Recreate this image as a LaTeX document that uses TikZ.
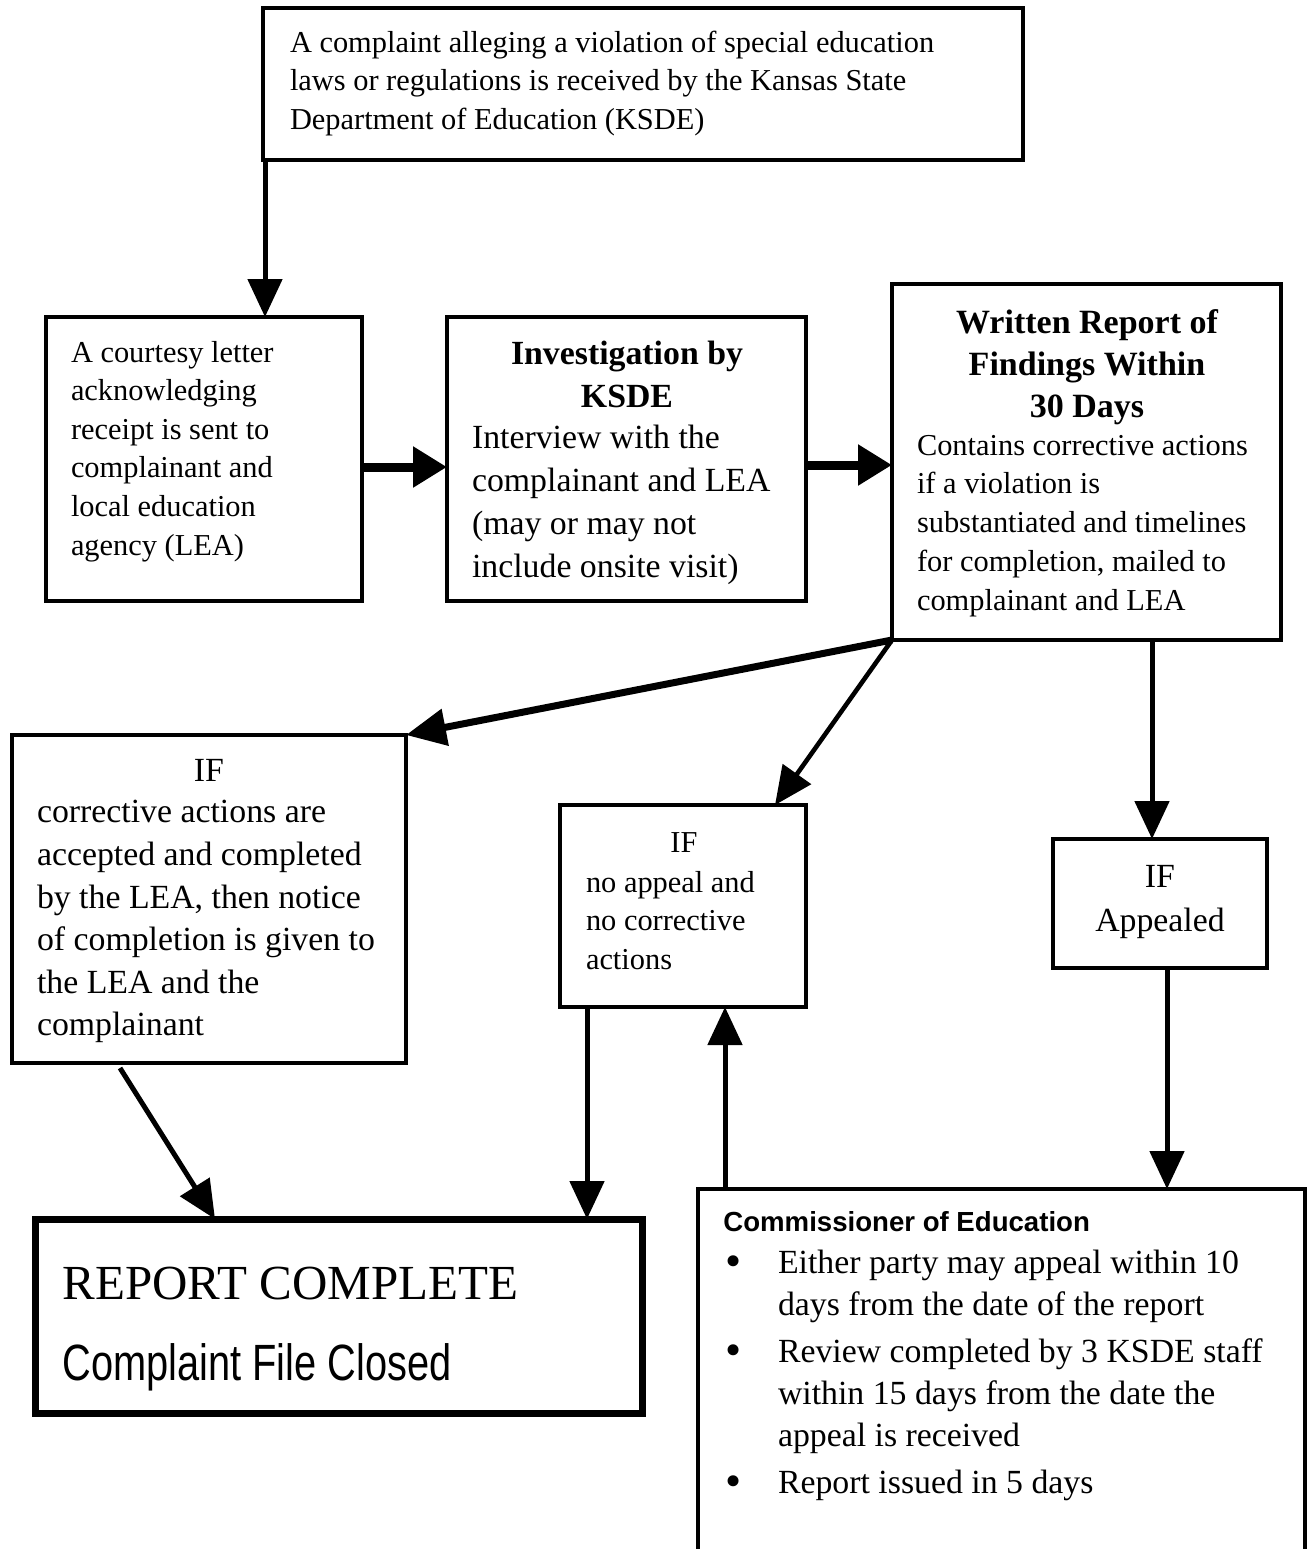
\documentclass[tikz,border=0pt]{standalone}
\usepackage{fontspec}
\setmainfont{Liberation Serif}
\setsansfont{Liberation Sans}
\newfontfamily\narrowsans{Liberation Sans}[FakeStretch=0.78]
\usetikzlibrary{arrows.meta}
\newcommand{\mybul}{\llap{\raisebox{-1.6pt}{\fontsize{23pt}{23pt}\selectfont\textbullet}\hspace{18pt}}}
\begin{document}
\begin{tikzpicture}[x=0.5pt,y=-0.5pt,
  box/.style={draw, line width=1.75pt, rectangle, inner sep=0pt, outer sep=0pt},
  bigbox/.style={box, line width=3.5pt},
  txt/.style={inner sep=0pt, outer sep=0pt, align=left, anchor=north west},
  ctxt/.style={inner sep=0pt, outer sep=0pt, align=center, anchor=north},
  fs/.style={font=\fontsize{15.2pt}{19.3pt}\selectfont},
  fm/.style={font=\fontsize{16.9pt}{21.5pt}\selectfont},
  arr/.style={line width=2.5pt, -{Triangle[length=19pt,width=17pt]}},
  arrH/.style={line width=4.5pt, -{Triangle[length=17pt,width=19.5pt]}},
  arrD/.style={line width=3.5pt, -{Triangle[length=20pt,width=18pt]}}]
\useasboundingbox (0,0) rectangle (1307,1549);
% boxes
\node[box, minimum width=380pt, minimum height=76pt] (b1) at (643,84) {};
\node[box, minimum width=158pt, minimum height=142pt] (b2) at (204,459) {};
\node[box, minimum width=179.5pt, minimum height=142pt] (b3) at (626.5,459) {};
\node[box, minimum width=194.5pt, minimum height=178pt] (b4) at (1086.5,462) {};
\node[box, minimum width=197pt, minimum height=164pt] (b5) at (209,899) {};
\node[box, minimum width=123pt, minimum height=101pt] (b6) at (683,906) {};
\node[box, minimum width=107pt, minimum height=64.5pt] (b7) at (1160,903.5) {};
\node[bigbox, minimum width=303.5pt, minimum height=97pt] (b8) at (338.5,1316) {};
\node[box, minimum width=303.5pt, minimum height=183pt] (b9) at (1001.5,1372) {};
% texts
\node[txt, fs] (t1) at (290,25) {\strut A complaint alleging a violation of special education\\laws or regulations is received by the Kansas State\\Department of Education (KSDE)};
\node[txt, fs] (t2) at (71,335) {\strut A courtesy letter\\acknowledging\\receipt is sent to\\complainant and\\local education\\agency (LEA)};
\node[ctxt, font=\fontsize{16.9pt}{21.5pt}\selectfont\bfseries] (t3h) at (627,334) {\strut Investigation by\\KSDE};
\node[txt, fm] (t3) at (472,418) {\strut Interview with the\\complainant and LEA\\(may or may not\\include onsite visit)};
\node[ctxt, font=\fontsize{17pt}{21pt}\selectfont\bfseries] (t4h) at (1087,303.6) {\strut Written Report of\\Findings Within\\30 Days};
\node[txt, font=\fontsize{15.2pt}{19.4pt}\selectfont] (t4) at (917,428) {\strut Contains corrective actions\\if a violation is\\substantiated and timelines\\for completion, mailed to\\complainant and LEA};
\node[ctxt, font=\fontsize{16.9pt}{21.3pt}\selectfont] (t5h) at (209,752) {\strut IF};
\node[txt, font=\fontsize{16.9pt}{21.3pt}\selectfont] (t5) at (37,793) {\strut corrective actions are\\accepted and completed\\by the LEA, then notice\\of completion is given to\\the LEA and the\\complainant};
\node[ctxt, font=\fontsize{15.2pt}{19.4pt}\selectfont] (t6h) at (684,825) {\strut IF};
\node[txt, font=\fontsize{15.2pt}{19.4pt}\selectfont] (t6) at (586,865) {\strut no appeal and\\no corrective\\actions};
\node[ctxt, font=\fontsize{16.9pt}{22pt}\selectfont] (t7) at (1160,857) {\strut IF\\Appealed};
\node[inner sep=0pt, anchor=base west, font=\fontsize{24.5pt}{29pt}\selectfont] (t8a) at (62,1299) {REPORT COMPLETE};
\node[inner sep=0pt, anchor=base west, font=\narrowsans\fontsize{25.5pt}{30pt}\selectfont] (t8b) at (62,1380) {Complaint File Closed};
\node[inner sep=0pt, anchor=base west, font=\sffamily\bfseries\fontsize{13.8pt}{16pt}\selectfont] (t9h) at (723,1231) {Commissioner of Education};
\node[txt, font=\fontsize{16.9pt}{21pt}\selectfont] (t9) at (778,1243.6) {\strut\mybul Either party may appeal within 10\\days from the date of the report\\[2.5pt]\mybul Review completed by 3 KSDE staff\\within 15 days from the date the\\appeal is received\\[2.5pt]\mybul Report issued in 5 days};
% connectors
\draw[arr] ([xshift=1pt]b1.south west) -- ([xshift=1pt]b1.south west |- b2.north);
\draw[arrH] ([yshift=-4pt]b2.east) -- ([yshift=-4pt]b3.west);
\draw[arrH] ([yshift=-3pt]b3.east) -- ([yshift=-3pt]b3.east -| b4.west);
\draw[arrD] (b4.south west) -- (b5.north east);
\draw[arr, line width=2.3pt] (b4.south west) -- ([xshift=-15.5pt]b6.north east);
\draw[arr] ([xshift=-4pt]b7.north |- b4.south) -- ([xshift=-4pt]b7.north);
\draw[arr] ([xshift=3.5pt]b7.south) -- ([xshift=3.5pt]b7.south |- b9.north);
\draw[arr] ([xshift=13.5pt]b6.south west) -- ([xshift=13.5pt]b6.south west |- b8.north);
\draw[arr] ([xshift=13.5pt]b9.north west) -- ([xshift=13.5pt]b9.north west |- b6.south);
\draw[arr] ([xshift=54pt,yshift=-2.5pt]b5.south west) -- ([xshift=90pt]b8.north west);
\end{tikzpicture}
\end{document}
